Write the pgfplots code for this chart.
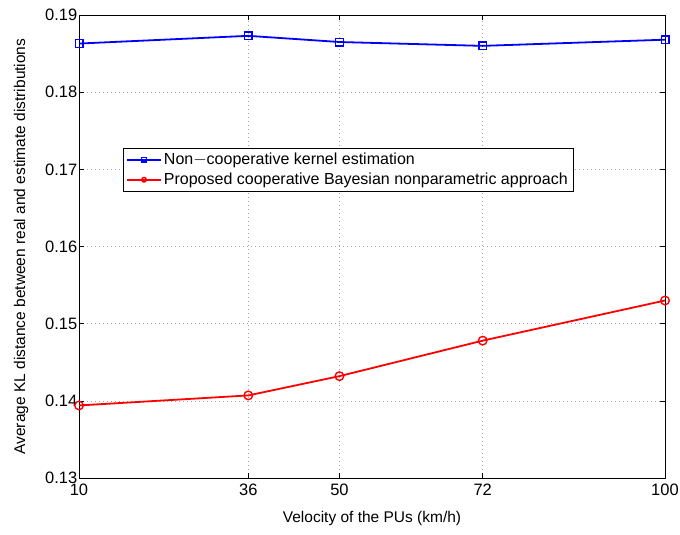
\documentclass[border=0pt]{standalone}
\usepackage{pgfplots}
\pgfplotsset{compat=1.18}
\usepackage{fontspec}
\setmainfont{Liberation Sans}
\begin{document}
\begin{tikzpicture}[x=1pt,y=1pt]
\path[use as bounding box] (0,0) rectangle (680,535);
\begin{axis}[
  at={(79pt,57pt)}, anchor=south west,
  scale only axis, width=586pt, height=463pt,
  xmin=10, xmax=100, ymin=0.13, ymax=0.19,
  xtick={10,36,50,72,100},
  ytick={0.13,0.14,0.15,0.16,0.17,0.18,0.19},
  yticklabel style={/pgf/number format/fixed,/pgf/number format/precision=2, inner sep=1.5pt},
  xticklabel style={inner sep=1.5pt, yshift=-4pt},
  /pgf/number format/assume math mode=true,
  tick label style={font=\fontsize{16.5}{18}\selectfont},
  label style={font=\fontsize{15.5}{18}\selectfont},
  tick align=inside, major tick length=5pt,
  grid=major,
  major grid style={gray!70, line width=0.6pt, dash pattern=on 0.8pt off 3.2pt},
  axis line style={line width=0.8pt},
  every tick/.style={black, line width=0.6pt},
  xlabel={Velocity of the PUs (km/h)},
  ylabel={Average KL distance between real and estimate distributions},
  xlabel style={at={(0.5,0)}, anchor=center, yshift=-40pt},
  ylabel style={at={(0,0.5)}, anchor=center, rotate=0, yshift=58pt},
  legend style={at={(0.075,0.713)}, anchor=north west, draw=black,
    font=\fontsize{16}{18}\selectfont, row sep=3pt, inner sep=3pt},
  legend cell align=left,
  legend image code/.code={\draw[#1] (0pt,0pt) -- (34pt,0pt); \draw[#1, only marks, mark size=2.3pt] plot coordinates {(17pt,0pt)};},
  clip=false,
]
\addplot[blue, line width=1.8pt, mark=square, mark size=3.8pt, mark options={line width=1.4pt, solid}]
  coordinates {(10,0.1863) (36,0.1873) (50,0.1865) (72,0.1860) (100,0.1868)};
\addlegendentry{Non$-$cooperative kernel estimation}
\addplot[red, line width=1.8pt, mark=o, mark size=4.3pt, mark options={line width=1.4pt, solid}]
  coordinates {(10,0.1394) (36,0.1407) (50,0.1432) (72,0.1478) (100,0.1530)};
\addlegendentry{Proposed cooperative Bayesian nonparametric approach}
\end{axis}
\end{tikzpicture}
\end{document}
